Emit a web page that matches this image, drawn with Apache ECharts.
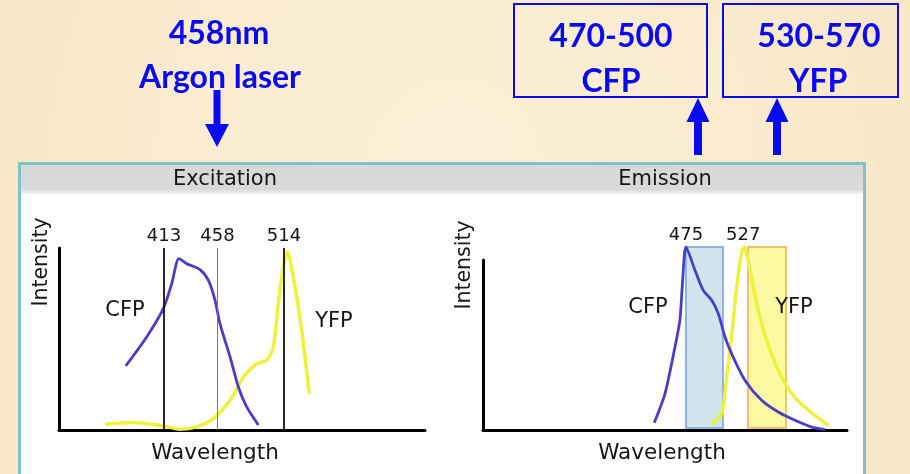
<!DOCTYPE html>
<html>
<head>
<meta charset="utf-8">
<script src="https://cdn.jsdelivr.net/npm/echarts@6/dist/echarts.min.js"></script>
<style>html,body{margin:0;padding:0;}#c{width:910px;height:474px;}</style>
</head>
<body>
<div id="c"></div>
<script>
// ---- data (wavelength nm, relative intensity) ----
var excCFP = [[380.8,0.356],[398.4,0.517],[412.4,0.674],[419.5,0.813],[425.6,0.952],[432.1,0.924],[443.3,0.891],[450.3,0.832],[455.9,0.722],[460.1,0.591],[468.6,0.406],[475.6,0.239],[482.6,0.128],[492.4,0.028]];
var excYFP = [[363.3,0.032],[387.2,0.041],[412.4,0.022],[426.5,0.004],[440.5,0.017],[454.5,0.063],[468.6,0.165],[479.8,0.294],[491.0,0.368],[499.4,0.387],[505.0,0.461],[509.2,0.702],[513.4,0.906],[516.8,0.989],[521.8,0.85],[528.9,0.554],[535.3,0.202]];
var emCFP = [[446.2,0.04],[455.9,0.198],[465.0,0.454],[469.5,0.6],[472.0,0.818],[475.0,1.0],[483.2,0.873],[490.7,0.763],[498.4,0.709],[504.4,0.636],[510.5,0.508],[516.5,0.417],[528.6,0.272],[543.8,0.162],[558.9,0.098],[574.1,0.053],[589.3,0.016],[601.4,0.002]];
var emYFP = [[498.4,0.034],[507.5,0.089],[512.0,0.29],[516.5,0.508],[521.1,0.781],[525.6,0.97],[528.0,1.0],[533.2,0.873],[539.3,0.69],[548.4,0.49],[558.9,0.326],[571.1,0.198],[586.2,0.108],[604.4,0.026]];
var excLines = [413, 458, 514];
var emPeaks = [475, 527];
var cfpFilter = [475, 508.6];
var yfpFilter = [531.4, 566];

var chart = echarts.init(document.getElementById('c'), null, {renderer:'canvas'});
var BLUE = '#4a3dc8', YEL = '#eef23a', TXT = '#161616';
var F = 'DejaVu Sans';
var ANN = '#0a0af2';

function axisX(idx, min, max){
  return {gridIndex: idx, type:'value', min:min, max:max, axisLine:{show:true, onZero:false, lineStyle:{color:'#000', width:3}},
    axisTick:{show:false}, axisLabel:{show:false}, splitLine:{show:false}};
}
function axisY(idx, min, max, showLine){
  return {gridIndex: idx, type:'value', min:min, max:max, axisLine:{show:showLine, lineStyle:{color:'#000', width:3}},
    axisTick:{show:false}, axisLabel:{show:false}, splitLine:{show:false}};
}
function txt(text, x, y, size, extra){
  var e = {type:'text', x:x, y:y, z:20, style:{text:text, x:0, y:0, align:'center', verticalAlign:'middle', fontSize:size, fontFamily:F, fill:TXT}};
  if (extra) for (var k in extra) e[k] = extra[k];
  return e;
}
function annText(text, x, y){
  return {type:'text', x:x, y:y, z:20, style:{text:text, x:0, y:0, align:'center', verticalAlign:'middle', fontSize:32, fontFamily:'Lato', fontWeight:'bold', fill:ANN}};
}
function arrowDown(cx, y0, y1, headH, shaftW, headW){
  return {type:'polygon', z:20, shape:{points:[[cx-shaftW/2,y0],[cx+shaftW/2,y0],[cx+shaftW/2,y1-headH],[cx+headW/2,y1-headH],[cx,y1],[cx-headW/2,y1-headH],[cx-shaftW/2,y1-headH]]}, style:{fill:ANN}};
}
function arrowUp(cx, tip, bottom, headH, shaftW, headW){
  return {type:'polygon', z:20, shape:{points:[[cx,tip],[cx+headW/2,tip+headH],[cx+shaftW/2,tip+headH],[cx+shaftW/2,bottom],[cx-shaftW/2,bottom],[cx-shaftW/2,tip+headH],[cx-headW/2,tip+headH]]}, style:{fill:ANN}};
}

var option = {
  animation:false,
  backgroundColor:{type:'radial', x:0.5, y:0.35, r:0.9, colorStops:[{offset:0,color:'#fcf0d9'},{offset:1,color:'#f9e9c9'}]},
  grid:[
    {left:59, top:248, width:366, height:182},
    {left:483, top:247, width:364, height:183},
    {left:483, top:260, width:20, height:170}
  ],
  xAxis:[axisX(0,324.6,632.7), axisX(1,290.5,621.4), {gridIndex:2, type:'value', min:0, max:1, show:false}],
  yAxis:[axisY(0,0,1.011,true), axisY(1,0,1,false), axisY(2,0,1,true)],
  series:[
    {type:'line', xAxisIndex:0, yAxisIndex:0, data:excYFP, smooth:0.25, symbol:'none', lineStyle:{color:YEL, width:3.5}, z:3},
    {type:'line', xAxisIndex:0, yAxisIndex:0, data:excCFP, smooth:0.25, symbol:'none', lineStyle:{color:BLUE, width:2.8}, z:4,
      markLine:{silent:true, symbol:'none', animation:false,
        label:{show:true, position:'end', distance:3, fontSize:18, fontFamily:F, color:TXT},
        data: excLines.map(function(v,i){ return {xAxis:v, lineStyle:{color: i===1 ? '#777' : '#111', width: i===1 ? 1 : 1.8, type:'solid'}}; })}},
    {type:'line', xAxisIndex:1, yAxisIndex:1, data:emYFP, smooth:0.25, symbol:'none', lineStyle:{color:YEL, width:3.5}, z:3},
    {type:'line', xAxisIndex:1, yAxisIndex:1, data:emCFP, smooth:0.25, symbol:'none', lineStyle:{color:BLUE, width:2.8}, z:4,
      markLine:{silent:true, symbol:'none', animation:false,
        label:{show:true, position:'end', distance:3, fontSize:18, fontFamily:F, color:TXT},
        data: emPeaks.map(function(v){ return {xAxis:v, lineStyle:{color:'rgba(0,0,0,0)', width:0}}; })}},
    {type:'line', xAxisIndex:1, yAxisIndex:1, data:[], z:6,
      markArea:{silent:true, data:[
        [{xAxis:cfpFilter[0], yAxis:0.011, itemStyle:{color:'rgba(150,198,212,0.45)', borderColor:'#8fb2df', borderWidth:2}},{xAxis:cfpFilter[1], yAxis:1}],
        [{xAxis:yfpFilter[0], yAxis:0.011, itemStyle:{color:'rgba(248,246,70,0.5)', borderColor:'#f6bd6a', borderWidth:2}},{xAxis:yfpFilter[1], yAxis:1}]
      ]}},
    {type:'line', xAxisIndex:2, yAxisIndex:2, data:[]}
  ],
  graphic:[
    {type:'rect', z:-100, shape:{x:19.5, y:163.5, width:845, height:330}, style:{fill:'#fff', stroke:'#7cc4c8', lineWidth:3}},
    {type:'rect', z:-99, shape:{x:21, y:165, width:842, height:30},
      style:{fill:{type:'linear', x:0, y:0, x2:0, y2:1, colorStops:[{offset:0,color:'#d8d8d8'},{offset:0.82,color:'#dadada'},{offset:0.92,color:'#ececec'},{offset:1,color:'#ffffff'}]}}},
    txt('Excitation', 225, 180, 21),
    txt('Emission', 665, 180, 21),
    txt('Intensity', 42, 262, 20.5, {rotation:Math.PI/2}),
    txt('Intensity', 465, 265, 20.5, {rotation:Math.PI/2}),
    txt('Wavelength', 215, 453, 21.5),
    txt('Wavelength', 662, 453, 21.5),
    txt('CFP', 125, 311, 21),
    txt('YFP', 334, 322, 21),
    txt('CFP', 648, 308, 21),
    txt('YFP', 794, 308, 21),
    annText('458nm', 219, 34),
    annText('Argon laser', 220, 78),
    arrowDown(217, 90, 147, 23, 7, 24),
    {type:'rect', z:20, shape:{x:514, y:4, width:193, height:93}, style:{fill:'none', stroke:ANN, lineWidth:2}},
    {type:'rect', z:20, shape:{x:723, y:4, width:175, height:93}, style:{fill:'none', stroke:ANN, lineWidth:2}},
    annText('470-500', 611, 37),
    annText('CFP', 611, 82),
    annText('530-570', 819, 37),
    annText('YFP', 818, 82),
    arrowUp(698, 98, 155, 24, 8, 23),
    arrowUp(777, 98, 155, 24, 8, 23)
  ]
};
chart.setOption(option);
</script>
</body>
</html>
